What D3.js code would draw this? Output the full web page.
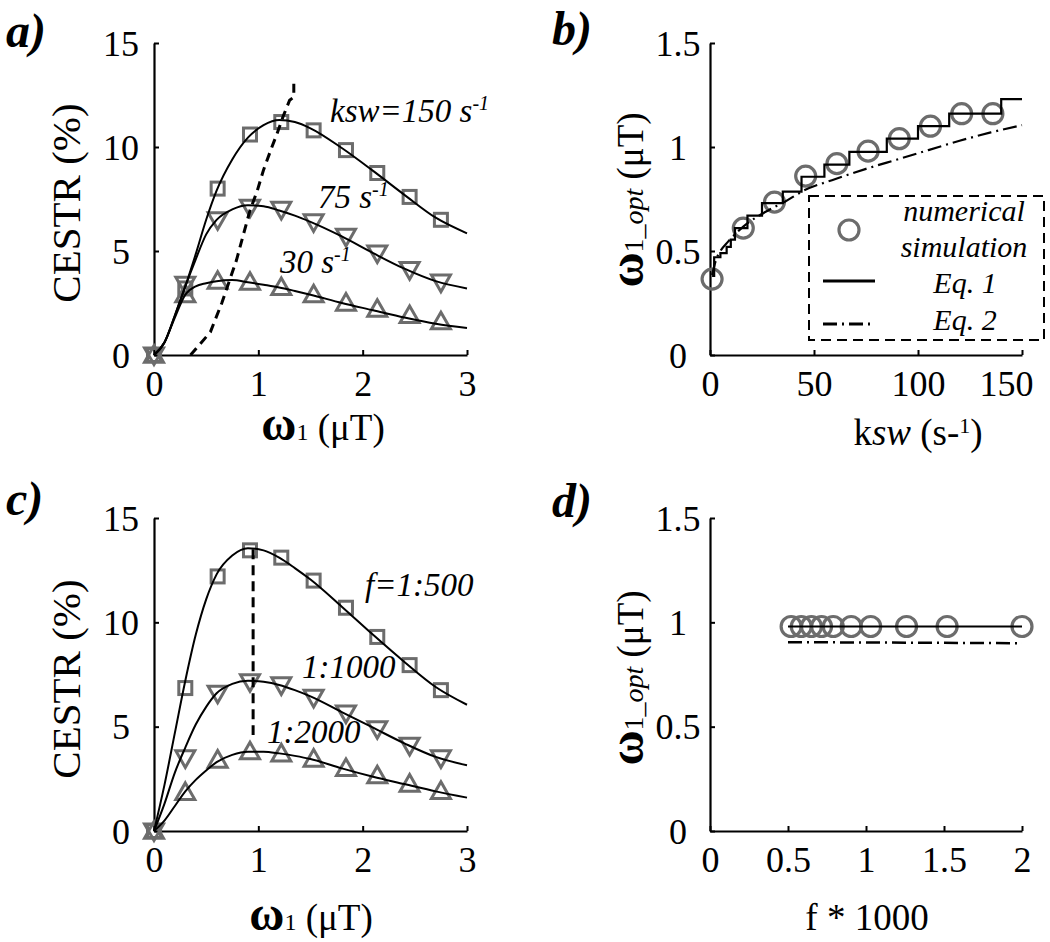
<!DOCTYPE html>
<html><head><meta charset="utf-8">
<script src="https://cdn.jsdelivr.net/npm/d3@7"></script>
<style>body{margin:0;background:#fff} svg{display:block}</style>
</head><body><svg id="c" width="1050" height="942"></svg>
<script>
// ---------------- DATA ----------------
// Panel a: CESTR vs omega1 for different ksw
const omegaSim = [0, 0.3, 0.61, 0.92, 1.22, 1.53, 1.84, 2.14, 2.45, 2.75];
const cestA150 = [0, 3.2, 8.0, 10.6, 11.2, 10.8, 9.85, 8.75, 7.6, 6.5];
const cestA75  = [0, 3.4, 6.5, 7.1, 7.0, 6.4, 5.7, 4.9, 4.1, 3.5];
const cestA30  = [0, 2.9, 3.55, 3.5, 3.25, 2.9, 2.5, 2.2, 1.9, 1.6];
const omegaFit = [0, 0.1, 0.2, 0.3, 0.4, 0.5, 0.6, 0.75, 0.9, 1.05, 1.2, 1.35, 1.5, 1.8, 2.1, 2.4, 2.7, 3.0];
const fitA150  = [0, 0.6, 1.9, 3.3, 4.85, 6.5, 7.9, 9.4, 10.45, 11.05, 11.3, 11.2, 10.9, 9.95, 8.85, 7.7, 6.6, 5.85];
const fitA75   = [0, 0.6, 1.9, 3.3, 4.6, 5.8, 6.5, 7.0, 7.2, 7.15, 6.95, 6.7, 6.4, 5.7, 4.9, 4.15, 3.55, 3.2];
const fitA30   = [0, 0.6, 1.8, 2.9, 3.3, 3.45, 3.55, 3.6, 3.5, 3.38, 3.25, 3.08, 2.9, 2.5, 2.15, 1.8, 1.5, 1.3];
const optOmegaA = [0.35, 0.54, 0.65, 0.79, 0.86, 0.92, 0.99, 1.05, 1.13, 1.18, 1.24, 1.3, 1.34, 1.34];
const optCestA  = [0, 1.1, 2.5, 4.55, 5.85, 6.95, 7.9, 8.9, 10.0, 10.65, 11.5, 12.25, 12.4, 13.1];

// Panel b: optimal omega1 vs ksw
const kswSim   = [1, 16, 31, 46, 61, 76, 91, 106, 121, 136];
const w1optSim = [0.365, 0.61, 0.735, 0.86, 0.92, 0.98, 1.04, 1.10, 1.16, 1.16];
const eq1Ksw   = [1, 2, 5, 8, 10, 12, 18, 25, 35, 44, 55, 67, 85, 100, 115, 140, 150];
const eq1W1    = [0.38, 0.47, 0.49, 0.52, 0.555, 0.61, 0.67, 0.73, 0.785, 0.857, 0.915, 0.977, 1.04, 1.10, 1.16, 1.23, 1.23];
const eq2Ksw   = [1, 3, 5, 8.7, 16, 27, 36, 45, 60, 75, 90, 105, 120, 135, 150];
const eq2W1    = [0.385, 0.46, 0.5, 0.545, 0.617, 0.69, 0.737, 0.79, 0.845, 0.895, 0.94, 0.985, 1.03, 1.07, 1.105];

// Panel c: CESTR vs omega1 for different f
const cestC500  = [0, 6.85, 12.2, 13.45, 13.1, 12.0, 10.7, 9.3, 7.95, 6.75];
const cestC1000 = [0, 3.5, 6.6, 7.15, 7.0, 6.4, 5.65, 4.9, 4.1, 3.5];
const cestC2000 = [0, 1.85, 3.4, 3.8, 3.7, 3.45, 3.0, 2.65, 2.25, 1.9];
const fitC500   = [0, 2.2, 4.7, 7.2, 9.4, 11.1, 12.3, 13.2, 13.55, 13.45, 13.1, 12.6, 12.05, 10.75, 9.4, 8.1, 6.9, 6.05];
const fitC1000  = [0, 1.3, 2.8, 4.0, 5.1, 5.95, 6.6, 7.05, 7.2, 7.15, 7.0, 6.75, 6.45, 5.7, 4.95, 4.2, 3.55, 3.15];
const fitC2000  = [0, 0.5, 1.2, 1.9, 2.45, 2.9, 3.3, 3.65, 3.8, 3.8, 3.72, 3.6, 3.45, 3.0, 2.6, 2.25, 1.9, 1.6];
const optOmegaC = [0.95, 0.95];
const optCestC  = [13.5, 4.6];

// Panel d: optimal omega1 vs f*1000
const fSim     = [0.52, 0.585, 0.65, 0.715, 0.79, 0.905, 1.03, 1.26, 1.52, 2.0];
const w1optD   = [0.98, 0.98, 0.98, 0.98, 0.98, 0.98, 0.98, 0.98, 0.98, 0.98];
const eq1F     = [0.5, 2.0];
const eq1D     = [0.98, 0.98];
const eq2F     = [0.5, 2.0];
const eq2D     = [0.905, 0.90];

// Ticks
const ticksOmega = [0, 1, 2, 3];
const ticksCest  = [0, 5, 10, 15];
const ticksKsw   = [0, 50, 100, 150];
const ticksW1    = [0, 0.5, 1, 1.5];
const ticksF     = [0, 0.5, 1, 1.5, 2];

// ---------------- DRAW ----------------
const svg = d3.select('#c');
const SERIF = '"Liberation Serif"';
const MK = '#6c6c6c';
const zip = (a, b) => a.map((v, i) => [v, b[i]]);

function makePanel(o) {
  const x = d3.scaleLinear().domain(o.xd).range(o.xr);
  const y = d3.scaleLinear().domain(o.yd).range(o.yr);
  const g = svg.append('g');
  const xa = g.append('g').attr('transform', `translate(0,${o.yr[0]})`)
    .call(d3.axisBottom(x).tickValues(o.xt).tickSize(-5).tickSizeOuter(0).tickFormat(d3.format('')));
  const ya = g.append('g').attr('transform', `translate(${o.xr[0]},0)`)
    .call(d3.axisLeft(y).tickValues(o.yt).tickSize(-5).tickSizeOuter(0).tickFormat(d3.format('')));
  [xa, ya].forEach(a => {
    a.attr('font-family', null).attr('font-size', null);
    a.select('.domain').attr('stroke', '#000').attr('stroke-width', 2.2);
    a.selectAll('.tick line').attr('stroke', '#000').attr('stroke-width', 2);
    a.selectAll('text').attr('fill', '#000').style('font-family', SERIF).attr('font-size', 36);
  });
  xa.selectAll('text').attr('y', 41).attr('dy', 0);
  ya.selectAll('text').attr('x', o.ylx).attr('dy', '0.34em').attr('text-anchor', 'middle');
  if (o.lastEnd) {
    xa.selectAll('text').filter((d, i, n) => i === n.length - 1)
      .attr('text-anchor', 'end').attr('x', o.lastEnd);
  }
  return {g, x, y};
}

function squares(p, xs, ys) {
  p.g.append('g').selectAll('rect').data(zip(xs, ys)).join('rect')
    .attr('x', d => p.x(d[0]) - 6.5).attr('y', d => p.y(d[1]) - 6.5)
    .attr('width', 13).attr('height', 13)
    .attr('fill', 'none').attr('stroke', MK).attr('stroke-width', 3);
}
function triangles(p, xs, ys, down) {
  const s = 9.5;
  p.g.append('g').selectAll('path').data(zip(xs, ys)).join('path')
    .attr('d', d => {
      const cx = p.x(d[0]), cy = p.y(d[1]);
      const k = down ? -1 : 1;
      return `M${cx},${cy - k * s}L${cx + s},${cy + k * s * 0.75}L${cx - s},${cy + k * s * 0.75}Z`;
    })
    .attr('fill', 'none').attr('stroke', MK).attr('stroke-width', 3).attr('stroke-linejoin', 'miter');
}
function circles(p, xs, ys) {
  p.g.append('g').selectAll('circle').data(zip(xs, ys)).join('circle')
    .attr('cx', d => p.x(d[0])).attr('cy', d => p.y(d[1])).attr('r', 10)
    .attr('fill', 'none').attr('stroke', MK).attr('stroke-width', 3.2);
}
function line(p, xs, ys, opts = {}) {
  const gen = d3.line().x(d => p.x(d[0])).y(d => p.y(d[1])).curve(opts.curve || d3.curveLinear);
  p.g.append('path').datum(zip(xs, ys)).attr('d', gen)
    .attr('fill', 'none').attr('stroke', '#000').attr('stroke-width', opts.w || 2)
    .attr('stroke-dasharray', opts.dash || null);
}
function txt(x, y, parts, size, anchor = 'start', rot = 0) {
  const t = svg.append('text').style('font-family', SERIF).attr('font-size', size)
    .attr('text-anchor', anchor)
    .attr('transform', `translate(${x},${y}) rotate(${rot})`);
  parts.forEach(p => {
    const s = t.append('tspan').text(p.t);
    if (p.i) s.style('font-style', 'italic');
    if (p.b) s.style('font-weight', 'bold');
    if (p.s) s.attr('font-size', p.s);
    if (p.dy) s.attr('dy', p.dy);
  });
  return t;
}

// Panel a
const pa = makePanel({xd: [0, 3], xr: [154, 467], yd: [0, 15], yr: [355, 43], xt: ticksOmega, yt: ticksCest, ylx: -33});
squares(pa, omegaSim, cestA150);
triangles(pa, omegaSim, cestA75, true);
triangles(pa, omegaSim, cestA30, false);
line(pa, omegaFit, fitA150, {curve: d3.curveMonotoneX});
line(pa, omegaFit, fitA75, {curve: d3.curveMonotoneX});
line(pa, omegaFit, fitA30, {curve: d3.curveMonotoneX});
line(pa, optOmegaA, optCestA, {w: 3, dash: '9,6'});

// Panel b
const pb = makePanel({xd: [0, 150], xr: [710, 1022], yd: [0, 1.5], yr: [355, 43], xt: ticksKsw, yt: ticksW1, ylx: -32, lastEnd: 11});
circles(pb, kswSim, w1optSim);
line(pb, eq1Ksw, eq1W1, {curve: d3.curveStepAfter, w: 2.2});
line(pb, eq2Ksw, eq2W1, {curve: d3.curveMonotoneX, w: 2.2, dash: '14,5,2,5'});

// Panel c
const pc = makePanel({xd: [0, 3], xr: [154, 467], yd: [0, 15], yr: [831, 518], xt: ticksOmega, yt: ticksCest, ylx: -33});
squares(pc, omegaSim, cestC500);
triangles(pc, omegaSim, cestC1000, true);
triangles(pc, omegaSim, cestC2000, false);
line(pc, omegaFit, fitC500, {curve: d3.curveMonotoneX});
line(pc, omegaFit, fitC1000, {curve: d3.curveMonotoneX});
line(pc, omegaFit, fitC2000, {curve: d3.curveMonotoneX});
line(pc, optOmegaC, optCestC, {w: 3, dash: '10,6'});

// Panel d
const pd = makePanel({xd: [0, 2], xr: [710, 1022], yd: [0, 1.5], yr: [831, 518], xt: ticksF, yt: ticksW1, ylx: -32});
circles(pd, fSim, w1optD);
line(pd, eq1F, eq1D, {w: 2.2});
line(pd, eq2F, eq2D, {w: 2.5, dash: '14,5,2,5'});

// Legend (panel b)
svg.append('rect').attr('x', 809).attr('y', 196).attr('width', 235).attr('height', 144)
  .attr('fill', '#fff').attr('stroke', '#000').attr('stroke-width', 2).attr('stroke-dasharray', '10,6');
svg.append('circle').attr('cx', 849).attr('cy', 230).attr('r', 10).attr('fill', 'none').attr('stroke', MK).attr('stroke-width', 3.2);
svg.append('line').attr('x1', 823).attr('x2', 875).attr('y1', 281).attr('y2', 281).attr('stroke', '#000').attr('stroke-width', 3);
svg.append('line').attr('x1', 823).attr('x2', 875).attr('y1', 324).attr('y2', 324).attr('stroke', '#000').attr('stroke-width', 3).attr('stroke-dasharray', '14,5,2,5');
txt(964, 221, [{t: 'numerical', i: 1}], 30, 'middle');
txt(964, 257, [{t: 'simulation', i: 1}], 30, 'middle');
txt(965, 293, [{t: 'Eq. 1', i: 1}], 30, 'middle');
txt(965, 330, [{t: 'Eq. 2', i: 1}], 30, 'middle');

// Annotations
txt(330, 122, [{t: 'ksw=150 s', i: 1}, {t: '-1', i: 1, s: 20, dy: -12}], 33);
txt(318, 208, [{t: '75 s', i: 1}, {t: '-1', i: 1, s: 20, dy: -12}], 33);
txt(280, 273, [{t: '30 s', i: 1}, {t: '-1', i: 1, s: 20, dy: -12}], 33);
txt(365, 596, [{t: 'f=1:500', i: 1}], 33);
txt(302, 678, [{t: '1:1000', i: 1}], 33);
txt(267, 743, [{t: '1:2000', i: 1}], 33);

// Panel letters
txt(6, 47, [{t: 'a)', i: 1, b: 1}], 48);
txt(552, 45, [{t: 'b)', i: 1, b: 1}], 48);
txt(6, 515, [{t: 'c)', i: 1, b: 1}], 48);
txt(552, 517, [{t: 'd)', i: 1, b: 1}], 48);

// Axis labels
txt(80, 203, [{t: 'CESTR (%)'}], 41, 'middle', -90);
txt(80, 679, [{t: 'CESTR (%)'}], 41, 'middle', -90);
txt(323, 440, [{t: 'ω', b: 1, s: 48}, {t: '1', s: 24}, {t: ' (μT)'}], 37, 'middle');
txt(311, 930, [{t: 'ω', b: 1, s: 48}, {t: '1', s: 24}, {t: ' (μT)'}], 37, 'middle');
txt(643, 200, [{t: 'ω', b: 1, s: 48}, {t: '1_', s: 28}, {t: 'opt', i: 1, s: 28}, {t: ' (μT)'}], 37, 'middle', -90);
txt(643, 678, [{t: 'ω', b: 1, s: 48}, {t: '1_', s: 28}, {t: 'opt', i: 1, s: 28}, {t: ' (μT)'}], 37, 'middle', -90);
txt(918, 445, [{t: 'k'}, {t: 'sw', i: 1}, {t: ' (s-'}, {t: '1', s: 22, dy: -12}, {t: ')', dy: 12}], 37, 'middle');
txt(867, 930, [{t: 'f * 1000'}], 37, 'middle');
</script></body></html>
